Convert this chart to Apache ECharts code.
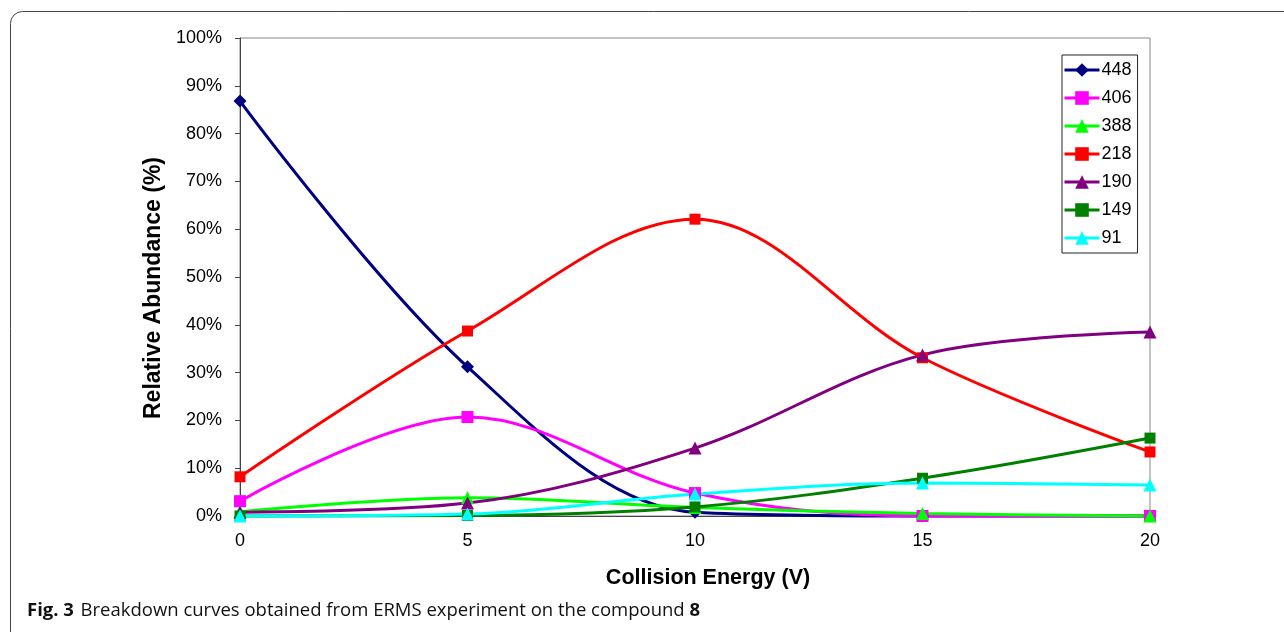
<!DOCTYPE html>
<html><head><meta charset="utf-8">
<script src="https://cdn.jsdelivr.net/npm/echarts@6/dist/echarts.min.js"></script>
<style>html,body{margin:0;padding:0;background:#fff}#c{width:1284px;height:632px}</style>
</head><body><div id="c"></div>
<script>
const energies = [0, 5, 10, 15, 20];
const yTicks = ['0%','10%','20%','30%','40%','50%','60%','70%','80%','90%','100%'];
const s448 = [86.8, 31.2, 0.8, 0, 0];
const s406 = [3.1, 20.7, 4.8, 0, 0];
const s388 = [0.9, 3.8, 1.8, 0.5, 0];
const s218 = [8.2, 38.7, 62.1, 33.1, 13.4];
const s190 = [0.8, 2.7, 14.2, 33.7, 38.5];
const s149 = [0, 0.1, 1.9, 7.9, 16.3];
const s91  = [0, 0.4, 4.6, 6.9, 6.5];

const seriesDefs = [
  ['448', s448, '#000080', 'diamond', 13],
  ['406', s406, '#FF00FF', 'rect', 12],
  ['388', s388, '#00FF00', 'triangle', 13],
  ['218', s218, '#FF0000', 'rect', 11],
  ['190', s190, '#800080', 'triangle', 13],
  ['149', s149, '#008000', 'rect', 11],
  ['91',  s91,  '#00FFFF', 'triangle', 13]
];

const chart = echarts.init(document.getElementById('c'), null, {renderer:'canvas'});
const font = '"Liberation Sans", Arial, sans-serif';
chart.setOption({
  animation: false,
  backgroundColor: '#fff',
  grid: {left: 240, right: 134, top: 38, bottom: 116, show: true, borderColor: '#888', borderWidth: 1},
  xAxis: {
    type: 'value', min: 0, max: 20, interval: 5,
    name: 'Collision Energy (V)', nameLocation: 'middle', nameGap: 51,
    nameTextStyle: {fontFamily: font, fontWeight: 'bold', fontSize: 21.5, color: '#000', padding: [0, 0, 0, 26]},
    axisLine: {show: true, lineStyle: {color: '#444', width: 1}},
    axisTick: {show: false},
    splitLine: {show: false},
    axisLabel: {fontFamily: font, fontSize: 18, color: '#000', margin: 16}
  },
  yAxis: {
    type: 'value', min: 0, max: 100, interval: 10,
    name: 'Relative Abundance (%)', nameLocation: 'middle', nameGap: 72,
    nameTextStyle: {fontFamily: font, fontWeight: 'bold', fontSize: 23, color: '#000', padding: [0, 22, 0, 0]},
    axisLine: {show: true, lineStyle: {color: '#444', width: 1}},
    axisTick: {show: true, inside: false, length: 5, lineStyle: {color: '#444'}},
    splitLine: {show: false},
    axisLabel: {fontFamily: font, fontSize: 18, color: '#000', margin: 18,
      formatter: v => yTicks[Math.round(v/10)]}
  },
  legend: {
    orient: 'vertical', left: 1062, top: 55,
    borderColor: '#222', borderWidth: 1, padding: [6, 6, 6, 1],
    itemWidth: 35, itemHeight: 17, itemGap: 10,
    lineStyle: {width: 3},
    textStyle: {fontFamily: font, fontSize: 18, color: '#000', padding: [0,0,0,-3]},
    data: seriesDefs.map(d => d[0])
  },
  series: seriesDefs.map(d => ({
    name: d[0], type: 'line', smooth: 0.35,
    data: energies.map((e, i) => [e, d[1][i]]),
    symbol: d[3], symbolSize: d[4],
    lineStyle: {color: d[2], width: 3},
    itemStyle: {color: d[2]},
    clip: false
  })),
  graphic: [
    {type: 'rect', shape: {x: 10.5, y: 11.5, width: 1400, height: 800, r: 12},
     style: {fill: 'none', stroke: '#444', lineWidth: 1}, silent: true},
    {type: 'text', left: 27, top: 601,
     style: {text: '{b|Fig. 3}  {n|Breakdown curves obtained from ERMS experiment on the compound }{b|8}',
       rich: {
         b: {fontFamily: '"Open Sans", "Noto Sans", sans-serif', fontWeight: 'bold', fontSize: 18.5, fill: '#111'},
         n: {fontFamily: '"Open Sans", "Noto Sans", sans-serif', fontSize: 18.5, fill: '#111'}
       }}}
  ]
});
</script></body></html>
